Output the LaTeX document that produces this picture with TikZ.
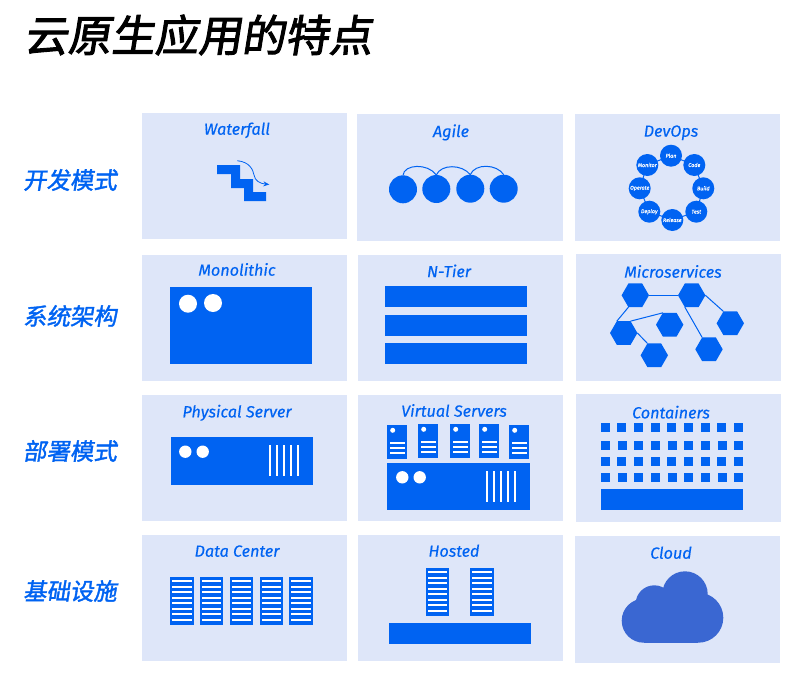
\documentclass[tikz,border=0pt]{standalone}
\usepackage{fontspec}
\usetikzlibrary{shapes.geometric,arrows.meta}
\newfontfamily\cjkit[FakeSlant=0.16,FakeBold=2.2]{Noto Sans CJK SC}
\newfontfamily\cjkrow[FakeSlant=0.16,FakeBold=1.6]{Noto Sans CJK SC}
\newfontfamily\latit[FakeBold=0.35]{Fira Sans Italic}
\newfontfamily\tinylat[FakeBold=0.4]{Fira Sans Italic}
\definecolor{panelc}{HTML}{DEE6F9}
\definecolor{bluec}{HTML}{0063F2}
\definecolor{cloudc}{HTML}{3A67D2}
\tikzset{
  x=1pt,y=-1pt,
  panel/.style={fill=panelc},
  solid blue/.style={fill=bluec},
  link/.style={draw=bluec,line width=1pt},
  heading/.style={text=bluec,font=\latit\fontsize{16.2}{16}\selectfont,inner sep=0pt,text height=11.4pt,text depth=0pt},
  rowlabel/.style={text=bluec,font=\cjkrow\fontsize{23.4}{24}\selectfont,inner sep=0pt},
  titletext/.style={text=black,font=\cjkit\fontsize{43.5}{44}\selectfont,inner sep=0pt},
  ball/.style={circle,fill=bluec,inner sep=0pt,outer sep=0pt,minimum size=28pt},
  devball/.style={circle,fill=bluec,text=white,inner sep=0pt,outer sep=0pt,minimum size=22pt,font=\tinylat\fontsize{5.4}{6}\selectfont},
  hexa/.style={regular polygon,regular polygon sides=6,fill=bluec,inner sep=0pt,outer sep=0pt,minimum size=27.4pt},
  pin/.style={fill=white},
}
\newcommand{\rackunit}[3]{% x, top y, list of line offsets
  \fill[solid blue] (#1,#2) rectangle ++(23.5,48);
  \foreach \o in {#3} \fill[pin] (#1+2,#2+\o-1) rectangle ++(19.5,2);
}
\newcommand{\vmunit}[2]{%
  \fill[solid blue] (#1,#2) rectangle ++(20,34);
  \fill[pin] (#1+5.7,#2+5.3) circle (2.5);
  \foreach \o in {17.7,23,28.2} \fill[pin] (#1+2.5,#2+\o-.85) rectangle ++(15.3,1.7);
}
\begin{document}
\begin{tikzpicture}
\useasboundingbox (0,0) rectangle (804,683);
% title and row labels
\node[titletext] (title) at (198,35) {云原生应用的特点};
\node[rowlabel] (r1) at (70,180) {开发模式};
\node[rowlabel] (r2) at (70,316) {系统架构};
\node[rowlabel] (r3) at (70,451) {部署模式};
\node[rowlabel] (r4) at (70,591) {基础设施};
% panels
\fill[panel] (142,113) rectangle (347,239);
\fill[panel] (357,114) rectangle (563,241);
\fill[panel] (575,114) rectangle (780,241);
\fill[panel] (142,255) rectangle (347,381);
\fill[panel] (358,255) rectangle (563,381);
\fill[panel] (576,254) rectangle (781,381);
\fill[panel] (142,395) rectangle (347,521);
\fill[panel] (358,395) rectangle (563,521);
\fill[panel] (576,394) rectangle (781,522);
\fill[panel] (142,535) rectangle (347,661);
\fill[panel] (358,535) rectangle (563,661);
\fill[panel] (575,536) rectangle (780,663);
% headings
\node[heading] (h1) at (237,129) {Waterfall};
\node[heading] (h2) at (451,131.3) {Agile};
\node[heading] (h3) at (671,131) {DevOps};
\node[heading] (h4) at (237,270) {Monolithic};
\node[heading] (h5) at (449,271.5) {N-Tier};
\node[heading] (h6) at (673,272) {Microservices};
\node[heading] (h7) at (237,411.7) {Physical Server};
\node[heading] (h8) at (454,411) {Virtual Servers};
\node[heading] (h9) at (671,412.7) {Containers};
\node[heading] (h10) at (237,551) {Data Center};
\node[heading] (h11) at (454,551) {Hosted};
\node[heading] (h12) at (671,553) {Cloud};
% waterfall
\fill[solid blue] (217,165) -- (240,165) -- (240,179) -- (253,179) -- (253,192) -- (266,192) -- (266,201) -- (244,201) -- (244,188) -- (231,188) -- (231,174) -- (217,174) -- cycle;
\coordinate (wfa) at (237.3,160.7);
\coordinate (wfb) at (269.3,184.5);
\draw[draw=bluec,line width=.8pt,-{Stealth[length=6pt,width=5pt]}] (wfa) .. controls (250,162) and (253,170) .. (254,175) .. controls (255,181) and (260,183.5) .. (wfb);
% agile
\node[ball] (a1) at (403,189.3) {};
\node[ball] (a2) at (436.3,189) {};
\node[ball] (a3) at (470.3,188.7) {};
\node[ball] (a4) at (503.7,188.7) {};
\draw[link] (a1.north) .. controls (404,164) and (428,163) .. (a2.north);
\draw[link] (a2.north) .. controls (441,164) and (462,164) .. (a3.north);
\draw[link] (a3.north) .. controls (475,163) and (497,164) .. (a4.north);
% devops
\foreach \p/\q/\x/\y in {d1/d2/671/155.7,d2/d3/694.3/165,d3/d4/703.3/188.3,d4/d5/696.3/211.7,d5/d6/672.3/220,d6/d7/649.3/211.7,d7/d8/639.7/188.3,d8/d1/647.3/165} {\coordinate (\p c) at (\x,\y);}
\draw[link] (d1c) -- (d2c) -- (d3c) -- (d4c) -- (d5c) -- (d6c) -- (d7c) -- (d8c) -- cycle;
\node[devball] (d1) at (d1c) {Plan};
\node[devball] (d2) at (d2c) {Code};
\node[devball] (d3) at (d3c) {Build};
\node[devball] (d4) at (d4c) {Test};
\node[devball] (d5) at (d5c) {Release};
\node[devball] (d6) at (d6c) {Deploy};
\node[devball] (d7) at (d7c) {Operate};
\node[devball] (d8) at (d8c) {Monitor};
% monolithic
\fill[solid blue] (170,286.7) rectangle (312,363.7);
\fill[pin] (188,303.7) circle (9);
\fill[pin] (213,303) circle (9);
% n-tier
\fill[solid blue] (385,286) rectangle (527.3,307.3);
\fill[solid blue] (385,314.7) rectangle (527.3,335.7);
\fill[solid blue] (385,342.7) rectangle (527.3,363.7);
% microservices
\node[hexa] (mA) at (635.3,295.3) {};
\node[hexa] (mB) at (691.7,295.3) {};
\node[hexa] (mC) at (669.7,324.7) {};
\node[hexa] (mD) at (730.3,323.3) {};
\node[hexa] (mE) at (623.7,333) {};
\node[hexa] (mF) at (654.3,355.3) {};
\node[hexa] (mG) at (709,349.3) {};
\draw[link] (mA.0) -- (mB.180);
\draw[link] (mA.240) -- (mE.120);
\draw[link] (mE.60) -- (mC.120);
\draw[link] (mE.0) -- (mF.120);
\draw[link] (mB.0) -- (mD.120);
\draw[link] (mB.240) -- (mG.120);
% physical server
\fill[solid blue] (170.7,437.3) rectangle (312.7,485.3);
\fill[pin] (185.3,451.7) circle (6.2);
\fill[pin] (202.7,451.7) circle (6.2);
\foreach \x in {270.3,277,284,290.7,297.7} \fill[pin] (\x-1,445) rectangle (\x+1,476.3);
% virtual servers
\vmunit{387}{425}
\vmunit{418}{424}
\vmunit{450}{424}
\vmunit{479}{424}
\vmunit{509}{425}
\fill[solid blue] (387.3,463) rectangle (529.7,510.3);
\fill[pin] (402.3,477.3) circle (6.2);
\fill[pin] (419.7,477.3) circle (6.2);
\foreach \x in {487,494,500.7,507.7,514.7} \fill[pin] (\x-1,470.7) rectangle (\x+1,501.7);
% containers
\foreach \y in {423,457} \foreach \x in {601,617,634,651,667,684,701,717,734} \fill[solid blue] (\x,\y) rectangle ++(9,9);
\foreach \y in {441,473} \foreach \x in {601,618,634,651,668,684,701,718,734} \fill[solid blue] (\x,\y) rectangle ++(9,9);
\fill[solid blue] (601,489.3) rectangle (743.3,510.3);
% data center
\foreach \x in {170,199.7,229.5,259.5,289.2} {\rackunit{\x}{576.7}{4.4,10,15.4,21,26.6,32,37.6,43}}
% hosted
\foreach \x in {425.7,470.2} {\rackunit{\x}{567.5}{4.4,10,15.8,21.5,26.8,32.5,37.8,43.5}}
\fill[solid blue] (388.7,623) rectangle (531,644);
% cloud
\fill[cloudc] (643.7,620.7) circle (22);
\fill[cloudc] (698.3,617.7) circle (25);
\fill[cloudc] (685,594) circle (22.7);
\fill[cloudc] (654.3,604) circle (18.7);
\fill[cloudc] (643.7,618) rectangle (698.3,642.7);
\fill[cloudc] (654,600) rectangle (690,625);
\end{tikzpicture}
\end{document}
